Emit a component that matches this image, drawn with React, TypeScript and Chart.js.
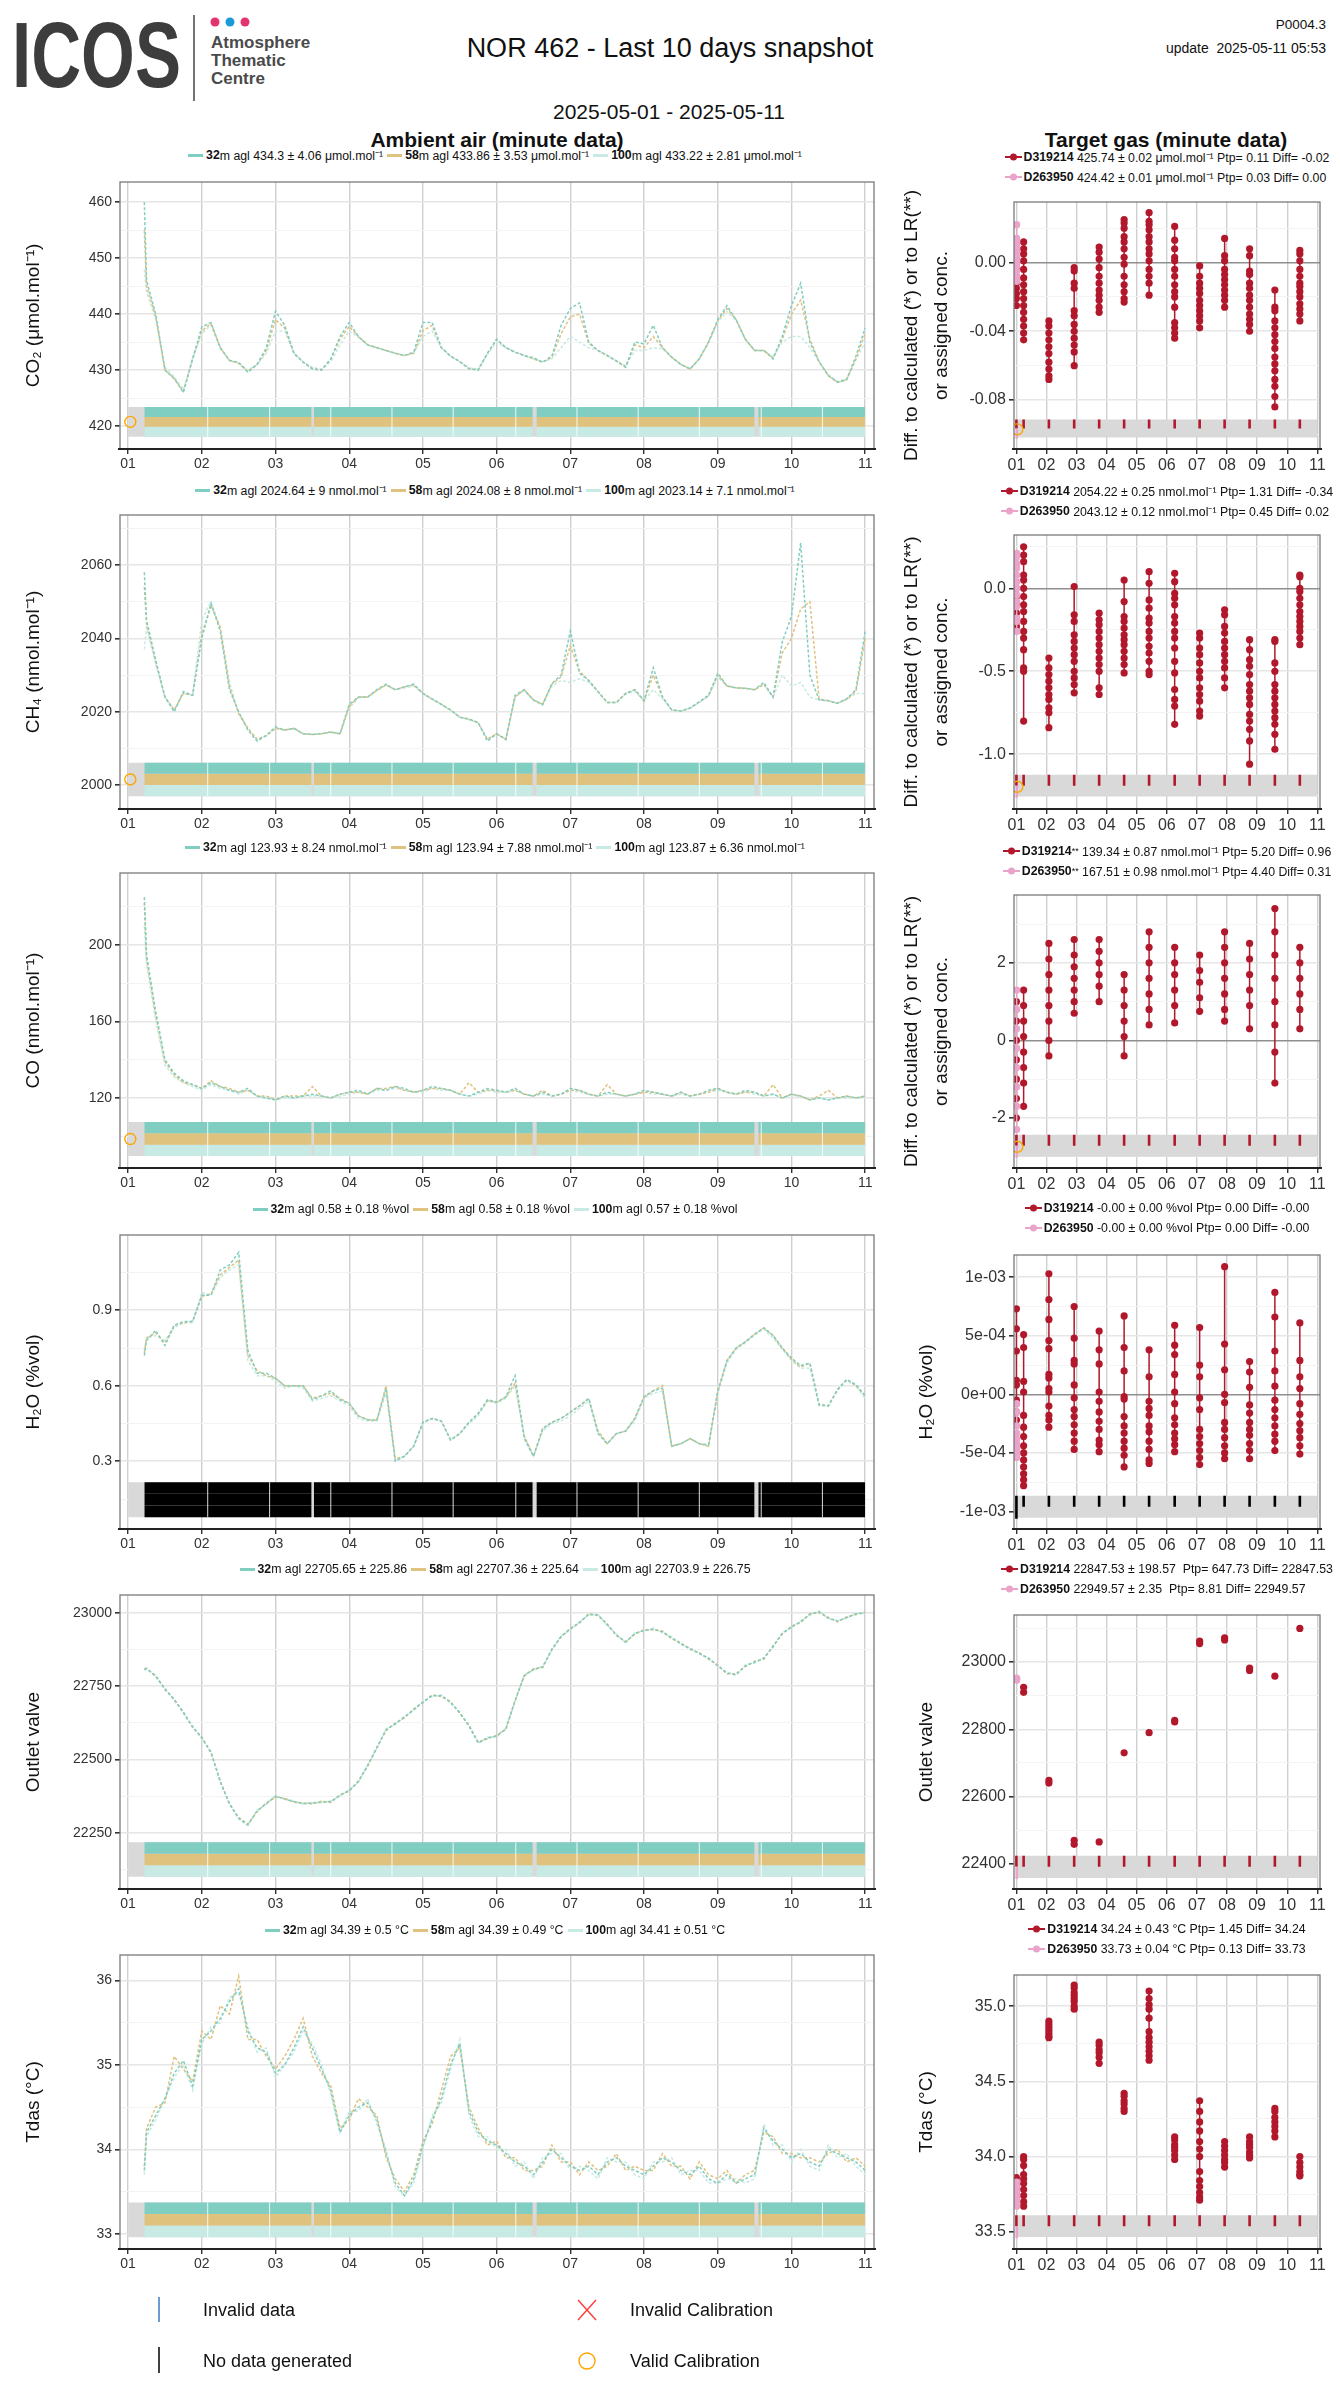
import React, { useEffect, useRef } from "react";
import { Chart, registerables } from "chart.js";
Chart.register(...registerables);

const FONT = '"Liberation Sans", Arial, Helvetica, sans-serif';
Chart.defaults.font.family = FONT;

// ---------------- shared axes / times ----------------
const dayTicks = [1, 2, 3, 4, 5, 6, 7, 8, 9, 10, 11];
const dayLabels = ["01", "02", "03", "04", "05", "06", "07", "08", "09", "10", "11"];
// ambient samples: first record at 1.22 then every 3 hours from 1.25 to 11.0
const ambientTimes: number[] = [1.22, ...Array.from({ length: 79 }, (_, k) => 1.25 + k * 0.125)];
const barStarts = [1.22, 3.52, 6.54, 9.55];
const barEnds = [3.49, 6.49, 9.5, 11.0];
const statusStart = 1.0;
const statusEnd = 11.0;
const calTimes = [1.0, 1.24, 2.08, 2.92, 3.75, 4.58, 5.41, 6.26, 7.09, 7.92, 8.75, 9.59, 10.42];
const refGasTime = 1.01;
const validCalTime = 1.03;

const heightColors = ["#80cdc1", "#dfc27d", "#c7eae5"];
const noDataColors = ["#000000", "#000000", "#000000"];
const tgtColor = "#b2182b";
const refColor = "#eaa3c9";

// ---------------- CO2 ambient ----------------
const co2_32 = [
  460, 446, 440, 430, 428.5, 426, 432,
  437.7, 438.5, 434, 431.7, 431.4, 429.6, 431, 434,
  440.5, 438, 433, 431.4, 430.2, 430, 432, 436,
  438.5, 436, 434.5, 434, 433.5, 433, 432.6, 433.2,
  438.5, 438.5, 434, 432.5, 431.5, 430.2, 430, 433,
  435.5, 434, 433.2, 432.6, 432.2, 431.4, 432.5, 438,
  441, 442, 435, 433.5, 432.6, 431.6, 430.5, 435,
  434.7, 438, 434, 432.3, 431, 430.2, 432, 435,
  439, 441.5, 439, 435.5, 433.5, 433.5, 432, 436,
  441.5, 445.5, 435, 431.5, 429, 427.8, 428.3, 432.5,
  437.5,
];
const co2_58 = [
  455, 445, 439.5, 430, 428.5, 426.2, 432,
  437, 438.3, 434, 431.7, 431.2, 429.8, 431, 433.5,
  439, 437.5, 433, 431.4, 430.3, 430, 432, 435.5,
  437.8, 436, 434.5, 434, 433.5, 433, 432.6, 433,
  437, 438, 434, 432.5, 431.5, 430.3, 430, 433,
  435.5, 434, 433.2, 432.6, 432, 431.4, 432.3, 436.5,
  439.5, 440, 434.8, 433.5, 432.6, 431.6, 430.6, 434.5,
  434, 436, 434, 432.3, 431, 430.2, 432, 435,
  438.8, 441, 439, 435.5, 433.5, 433.5, 432.2, 435.5,
  440, 442.5, 435.5, 431.5, 429, 427.8, 428.3, 432,
  436.5,
];
const co2_100 = [
  448, 444, 439, 430.5, 428.8, 426.5, 432,
  436.5, 438, 434, 431.8, 431.2, 430, 431, 433,
  437, 437, 433, 431.5, 430.5, 430.2, 431.5, 434.5,
  437, 435.8, 434.5, 434, 433.5, 433, 432.6, 433,
  436, 437, 434, 432.5, 431.5, 430.4, 430.2, 432.8,
  435, 434, 433.2, 432.6, 432, 431.5, 432, 434,
  436, 435, 434, 433.5, 432.6, 431.7, 430.8, 433.5,
  433.5, 434, 433.8, 432.3, 431, 430.3, 432, 434.8,
  438.5, 440.5, 438.8, 435.5, 433.5, 433.5, 432.3, 435,
  436, 436, 434, 431.5, 429.2, 428, 428.5, 431.8,
  435,
];

// ---------------- CH4 ambient ----------------
const ch4_32 = [
  2058, 2045, 2034, 2024, 2020, 2025.5, 2024.5,
  2040, 2049.5, 2042, 2026, 2020, 2015, 2012, 2013.5,
  2015.9, 2015, 2015.5, 2014, 2013.8, 2014, 2014.5, 2014,
  2022, 2024, 2024, 2026, 2027.5, 2026, 2026.8, 2027.5,
  2025, 2023.5, 2022, 2020.5, 2018.5, 2018, 2017, 2012,
  2014, 2012.5, 2024.5, 2026, 2023.2, 2022, 2027.7, 2030,
  2042, 2030.5, 2028.5, 2025.5, 2022.5, 2022.5, 2025, 2026,
  2023, 2032, 2024, 2020.5, 2020.2, 2021, 2022.7, 2024.5,
  2030.5, 2027, 2026.5, 2026.4, 2026, 2028, 2024, 2039,
  2046, 2066, 2030, 2023.2, 2023, 2022.3, 2023.5, 2026,
  2042,
];
const ch4_58 = [
  2054, 2044, 2033.5, 2024, 2020.5, 2025, 2024.5,
  2041, 2049, 2043, 2027, 2019.5, 2015.5, 2012.5, 2013.5,
  2015.5, 2015, 2015.5, 2014, 2013.8, 2014, 2014.5, 2014,
  2021.5, 2024, 2024, 2025.8, 2027.3, 2026, 2026.8, 2027.3,
  2025, 2023.5, 2022, 2020.5, 2018.5, 2018, 2017, 2012.5,
  2014, 2012.5, 2024, 2026, 2023.2, 2022, 2027.5, 2029.5,
  2038, 2031, 2028.5, 2025.5, 2022.5, 2022.5, 2025, 2026,
  2023, 2030, 2024, 2020.5, 2020.2, 2021, 2022.7, 2024.3,
  2030, 2027, 2026.5, 2026.4, 2026, 2027.5, 2024, 2036,
  2040, 2048, 2050, 2023.5, 2023, 2022.3, 2023.5, 2025.5,
  2040,
];
const ch4_100 = [
  2037, 2043, 2033, 2024, 2020.5, 2025, 2024.5,
  2045, 2050, 2043, 2028, 2019.5, 2015.5, 2012.5, 2013.5,
  2015.5, 2015, 2015.3, 2014, 2013.8, 2014, 2014.3, 2014,
  2021, 2023.8, 2024, 2025.8, 2027.2, 2026, 2026.5, 2027,
  2025, 2023.3, 2022, 2020.3, 2018.5, 2017.8, 2017, 2012.5,
  2014, 2012.3, 2024, 2025.8, 2023, 2021.8, 2027, 2028.5,
  2028, 2029, 2028, 2025.5, 2022.5, 2022.5, 2024.8, 2025.5,
  2023, 2026, 2023.5, 2020.5, 2020.2, 2021, 2022.5, 2024.3,
  2029.5, 2027, 2026.5, 2026.2, 2026, 2027.3, 2024, 2030,
  2027, 2028, 2024, 2023.2, 2023, 2022.3, 2023.3, 2025,
  2025,
];

// ---------------- CO ambient ----------------
const co_32 = [
  225, 195, 165, 140, 133, 129, 127,
  125, 128, 126, 124, 123, 125, 121, 120,
  119, 121, 120, 121, 122, 121, 120, 122,
  123, 124, 122, 125, 124, 126, 125, 123,
  124, 126, 125, 124, 122, 121, 123, 125,
  124, 123, 125, 122, 121, 123, 121, 122,
  125, 124, 122, 121, 123, 122, 121, 122,
  124, 123, 122, 121, 123, 121, 122, 124,
  125, 123, 122, 124, 123, 121, 122, 120,
  122, 121, 119, 120, 119, 120, 121, 120,
  121,
];
const co_58 = [
  222, 193, 163, 139, 132, 128, 127,
  125, 129, 126, 125, 123, 124, 121, 121,
  119, 121, 121, 121, 126, 121, 120, 122,
  123, 123, 122, 125, 125, 126, 124, 123,
  124, 125, 125, 124, 122, 128, 123, 124,
  124, 123, 124, 122, 121, 124, 121, 122,
  124, 124, 122, 121, 127, 122, 121, 122,
  123, 123, 122, 121, 123, 121, 122, 123,
  125, 123, 122, 123, 123, 121, 127, 120,
  122, 121, 119, 121, 124, 120, 121, 120,
  121,
];
const co_100 = [
  210, 190, 160, 137, 131, 128, 126,
  124, 127, 125, 124, 122, 124, 121, 120,
  119, 120, 120, 121, 121, 121, 120, 121,
  122, 123, 122, 124, 124, 125, 124, 123,
  123, 125, 124, 124, 122, 121, 122, 124,
  123, 123, 124, 122, 121, 122, 121, 122,
  124, 123, 122, 121, 122, 122, 121, 122,
  123, 122, 122, 121, 122, 121, 122, 123,
  124, 123, 122, 123, 122, 121, 122, 120,
  121, 121, 119, 120, 119, 120, 120, 120,
  120,
];

// ---------------- H2O ambient ----------------
const h2o_32 = [
  0.72, 0.78, 0.82, 0.76, 0.84, 0.855, 0.856,
  0.96, 0.96, 1.06, 1.08, 1.13, 0.74, 0.65, 0.65,
  0.63, 0.6, 0.6, 0.6, 0.545, 0.56, 0.58, 0.545,
  0.53, 0.48, 0.465, 0.463, 0.59, 0.3, 0.32, 0.36,
  0.455, 0.47, 0.46, 0.385, 0.41, 0.455, 0.49, 0.545,
  0.535, 0.556, 0.64, 0.39, 0.32, 0.43, 0.455, 0.47,
  0.495, 0.52, 0.55, 0.41, 0.37, 0.41, 0.42, 0.47,
  0.556, 0.58, 0.59, 0.36, 0.37, 0.39, 0.37, 0.365,
  0.58, 0.7, 0.75, 0.775, 0.805, 0.83, 0.8, 0.75,
  0.71, 0.68, 0.69, 0.525, 0.52, 0.585, 0.625, 0.605,
  0.56,
];
const h2o_58 = [
  0.73, 0.79, 0.81, 0.77, 0.84, 0.85, 0.856,
  0.955, 0.965, 1.04, 1.07, 1.1, 0.72, 0.66, 0.64,
  0.63, 0.6, 0.6, 0.6, 0.55, 0.56, 0.57, 0.55,
  0.53, 0.48, 0.465, 0.463, 0.6, 0.31, 0.32, 0.36,
  0.455, 0.47, 0.46, 0.385, 0.41, 0.455, 0.49, 0.54,
  0.535, 0.556, 0.61, 0.4, 0.32, 0.43, 0.455, 0.47,
  0.495, 0.52, 0.55, 0.42, 0.37, 0.41, 0.42, 0.47,
  0.556, 0.58, 0.6, 0.36, 0.37, 0.39, 0.37, 0.36,
  0.575, 0.7, 0.75, 0.775, 0.805, 0.83, 0.8, 0.75,
  0.705, 0.675, 0.69, 0.525, 0.52, 0.585, 0.625, 0.6,
  0.56,
];
const h2o_100 = [
  0.74, 0.79, 0.8, 0.78, 0.83, 0.85, 0.85,
  0.97, 0.96, 1.03, 1.06, 1.08, 0.7, 0.64, 0.64,
  0.62, 0.59, 0.6, 0.59, 0.54, 0.55, 0.56, 0.54,
  0.52, 0.47, 0.46, 0.46, 0.57, 0.3, 0.32, 0.36,
  0.45, 0.47, 0.46, 0.385, 0.41, 0.45, 0.48, 0.54,
  0.53, 0.55, 0.6, 0.4, 0.32, 0.42, 0.45, 0.46,
  0.48, 0.51, 0.54, 0.42, 0.37, 0.41, 0.42, 0.46,
  0.55, 0.57, 0.58, 0.36, 0.37, 0.39, 0.37, 0.36,
  0.57, 0.69, 0.745, 0.77, 0.8, 0.825, 0.79, 0.745,
  0.7, 0.67, 0.67, 0.52, 0.52, 0.58, 0.62, 0.6,
  0.55,
];

// ---------------- Outlet valve ambient ----------------
const out_32 = [
  22807, 22810, 22785, 22740, 22705, 22660, 22612,
  22574, 22525, 22425, 22350, 22300, 22278, 22325, 22350,
  22375, 22366, 22357, 22350, 22352, 22355, 22357, 22378,
  22395, 22425, 22480, 22540, 22602, 22622, 22645, 22670,
  22696, 22718, 22718, 22695, 22660, 22615, 22557, 22574,
  22580, 22605, 22700, 22787, 22807, 22816, 22875, 22920,
  22945, 22968, 22995, 22993, 22960, 22925, 22900, 22930,
  22940, 22945, 22935, 22915, 22895, 22878, 22862, 22845,
  22820, 22795, 22790, 22820, 22832, 22845, 22885, 22930,
  22952, 22970, 22995, 23004, 22982, 22972, 22984, 22997,
  23000,
];
const out_58 = [
  22810, 22812, 22782, 22743, 22703, 22663, 22610,
  22577, 22522, 22428, 22347, 22303, 22281, 22322, 22353,
  22372, 22369, 22354, 22353, 22349, 22358, 22354, 22381,
  22392, 22428, 22477, 22543, 22599, 22625, 22642, 22673,
  22693, 22721, 22715, 22698, 22657, 22618, 22560, 22571,
  22583, 22602, 22703, 22784, 22810, 22813, 22878, 22917,
  22948, 22965, 22998, 22990, 22963, 22922, 22903, 22927,
  22943, 22942, 22938, 22912, 22898, 22875, 22865, 22842,
  22823, 22792, 22793, 22817, 22835, 22842, 22888, 22927,
  22955, 22967, 22998, 23001, 22985, 22969, 22987, 22994,
  23003,
];
const out_100 = [
  22804, 22807, 22788, 22737, 22708, 22657, 22615,
  22571, 22528, 22422, 22353, 22297, 22275, 22328, 22347,
  22378, 22363, 22360, 22347, 22355, 22352, 22360, 22375,
  22398, 22422, 22483, 22537, 22605, 22619, 22648, 22667,
  22699, 22715, 22721, 22692, 22663, 22612, 22554, 22577,
  22577, 22608, 22697, 22790, 22804, 22819, 22872, 22923,
  22942, 22971, 22992, 22996, 22957, 22928, 22897, 22933,
  22937, 22948, 22932, 22918, 22892, 22881, 22859, 22848,
  22817, 22798, 22787, 22823, 22829, 22848, 22882, 22933,
  22949, 22973, 22992, 23007, 22979, 22975, 22981, 23000,
  22997,
];

// ---------------- Tdas ambient ----------------
const td_32 = [
  33.75, 34.2, 34.4, 34.6, 34.9, 35.05, 34.75,
  35.3, 35.4, 35.55, 35.75, 35.9, 35.4, 35.2, 35.15,
  34.9, 35.0, 35.2, 35.45, 35.2, 34.95, 34.7, 34.2,
  34.4, 34.5, 34.55, 34.35, 33.95, 33.6, 33.45, 33.65,
  34.05, 34.35, 34.6, 35.0, 35.25, 34.45, 34.2, 34.1,
  34.05, 33.95, 33.85, 33.8, 33.7, 33.85, 34.0, 33.9,
  33.8, 33.75, 33.8, 33.7, 33.85, 33.9, 33.8, 33.75,
  33.7, 33.8, 33.9, 33.85, 33.75, 33.7, 33.8, 33.65,
  33.6, 33.7, 33.6, 33.65, 33.7, 34.25, 34.1, 34.0,
  33.9, 33.95, 33.85, 33.8, 34.0, 33.95, 33.9, 33.85,
  33.75,
];
const td_58 = [
  33.8, 34.25, 34.5, 34.55, 35.1, 34.95, 34.8,
  35.4, 35.3, 35.7, 35.6, 36.05, 35.3, 35.3, 35.1,
  34.95, 35.1, 35.3, 35.55, 35.1, 34.9, 34.75, 34.25,
  34.35, 34.6, 34.5, 34.4, 33.9, 33.65, 33.5, 33.7,
  34.1, 34.3, 34.7, 35.1, 35.2, 34.5, 34.25, 34.05,
  34.1, 33.9, 33.9, 33.75, 33.75, 33.8, 34.05, 33.85,
  33.85, 33.7, 33.85, 33.75, 33.8, 33.95, 33.75, 33.8,
  33.75, 33.75, 33.95, 33.8, 33.8, 33.65, 33.85, 33.7,
  33.65, 33.75, 33.6, 33.7, 33.75, 34.2, 34.15, 33.95,
  33.95, 33.9, 33.9, 33.85, 33.95, 34.0, 33.85, 33.9,
  33.8,
];
const td_100 = [
  33.7, 34.15, 34.35, 34.6, 34.85, 35.0, 34.7,
  35.25, 35.45, 35.5, 35.8, 35.85, 35.45, 35.15, 35.2,
  34.85, 35.0, 35.15, 35.4, 35.25, 35.0, 34.65, 34.2,
  34.45, 34.45, 34.6, 34.3, 34.0, 33.55, 33.45, 33.6,
  34.0, 34.4, 34.55, 34.95, 35.3, 34.4, 34.15, 34.15,
  34.0, 34.0, 33.8, 33.85, 33.65, 33.9, 33.95, 33.95,
  33.75, 33.8, 33.75, 33.65, 33.9, 33.85, 33.85, 33.7,
  33.65, 33.85, 33.85, 33.9, 33.7, 33.75, 33.75, 33.6,
  33.6, 33.65, 33.65, 33.6, 33.65, 34.3, 34.05, 34.05,
  33.85, 34.0, 33.8, 33.75, 34.05, 33.9, 33.95, 33.8,
  33.7,
];

// ---------------- status bands (top -> bottom boundaries) ----------------
const co2Bands = [423.4, 421.63, 419.87, 418.1];
const ch4Bands = [2006.1, 2003.07, 2000.03, 1997.0];
const coBands = [107.45, 101.5, 95.6, 89.67];
const h2oBands = [0.217, 0.171, 0.124, 0.078];
const outBands = [22218, 22179, 22140, 22101];
const tdBands = [33.37, 33.233, 33.097, 32.96];

// ---------------- target gas sessions (one array per calTimes entry) ----------------
const co2Tgt = [
  [-0.003, -0.008, -0.012, -0.015, -0.018, -0.021, -0.025],
  [0.012, 0.008, 0.005, 0.001, -0.004, -0.009, -0.013, -0.017, -0.021, -0.025, -0.029, -0.033, -0.037, -0.041, -0.045],
  [-0.034, -0.037, -0.041, -0.045, -0.049, -0.053, -0.058, -0.062, -0.066, -0.068],
  [-0.003, -0.005, -0.012, -0.015, -0.028, -0.031, -0.036, -0.04, -0.044, -0.048, -0.052, -0.06],
  [0.009, 0.006, 0.002, -0.003, -0.008, -0.012, -0.016, -0.019, -0.022, -0.026, -0.029],
  [0.025, 0.023, 0.02, 0.015, 0.012, 0.008, 0.003, -0.001, -0.008, -0.013, -0.017, -0.021, -0.023],
  [0.029, 0.024, 0.022, 0.019, 0.015, 0.012, 0.008, 0.005, 0.001, -0.004, -0.008, -0.012, -0.019],
  [0.021, 0.013, 0.008, 0.003, 0.001, -0.004, -0.008, -0.013, -0.017, -0.02, -0.026, -0.035, -0.038, -0.041, -0.044],
  [-0.002, -0.008, -0.012, -0.015, -0.018, -0.022, -0.025, -0.028, -0.031, -0.034, -0.038],
  [0.014, 0.004, 0.001, -0.004, -0.007, -0.01, -0.013, -0.016, -0.019, -0.022, -0.026],
  [0.008, 0.004, -0.005, -0.007, -0.012, -0.015, -0.019, -0.022, -0.026, -0.03, -0.033, -0.036, -0.04],
  [-0.016, -0.026, -0.028, -0.034, -0.038, -0.042, -0.046, -0.05, -0.055, -0.059, -0.063, -0.068, -0.072, -0.078, -0.084],
  [0.007, 0.005, 0.001, -0.004, -0.008, -0.012, -0.014, -0.017, -0.02, -0.024, -0.027, -0.03, -0.034],
];
const co2Ref = [0.022, 0.014, 0.012, 0.01, 0.008, 0.006, 0.003, 0.001, -0.002, -0.005, -0.008, -0.011];

const ch4Tgt = [
  [0.0, -0.05, -0.1, -0.15, -0.2, -0.23],
  [0.25, 0.2, 0.16, 0.08, 0.05, 0.0, -0.05, -0.1, -0.14, -0.2, -0.26, -0.3, -0.37, -0.48, -0.5, -0.8],
  [-0.42, -0.48, -0.52, -0.56, -0.6, -0.64, -0.67, -0.72, -0.75, -0.84],
  [0.01, -0.16, -0.2, -0.28, -0.32, -0.36, -0.4, -0.44, -0.5, -0.54, -0.58, -0.63],
  [-0.15, -0.19, -0.22, -0.26, -0.3, -0.34, -0.38, -0.42, -0.46, -0.5, -0.6, -0.64],
  [0.05, -0.08, -0.17, -0.2, -0.24, -0.28, -0.31, -0.34, -0.38, -0.42, -0.46, -0.51],
  [0.1, 0.03, -0.07, -0.12, -0.18, -0.21, -0.26, -0.3, -0.35, -0.39, -0.44, -0.5, -0.52],
  [0.09, 0.04, -0.03, -0.06, -0.1, -0.17, -0.21, -0.26, -0.3, -0.36, -0.44, -0.51, -0.61, -0.67, -0.71, -0.82],
  [-0.27, -0.3, -0.36, -0.4, -0.45, -0.5, -0.54, -0.6, -0.64, -0.68, -0.74, -0.77],
  [-0.13, -0.16, -0.23, -0.27, -0.32, -0.36, -0.4, -0.44, -0.48, -0.54, -0.6],
  [-0.31, -0.37, -0.43, -0.47, -0.52, -0.58, -0.62, -0.66, -0.7, -0.76, -0.8, -0.85, -0.92, -1.06],
  [-0.31, -0.32, -0.45, -0.5, -0.58, -0.62, -0.66, -0.7, -0.74, -0.78, -0.82, -0.88, -0.97],
  [0.08, 0.07, 0.0, -0.02, -0.06, -0.1, -0.14, -0.17, -0.2, -0.23, -0.26, -0.3, -0.34],
];
const ch4Ref = [0.21, 0.19, 0.15, 0.12, 0.08, 0.04, 0.0, -0.04, -0.08, -0.11, -0.18, -0.2, -0.26];

const coTgt = [
  [1.0, 0.5, 0.0, -0.5, -1.0, -1.5, -2.0],
  [1.3, 0.9, 0.5, 0.1, -0.3, -0.7, -1.1, -1.7],
  [2.5, 2.1, 1.7, 1.3, 0.9, 0.5, 0.0, -0.4],
  [2.6, 2.2, 1.9, 1.6, 1.3, 1.0, 0.7],
  [2.6, 2.3, 2.0, 1.7, 1.4, 1.0],
  [1.7, 1.3, 0.9, 0.5, 0.1, -0.4],
  [2.8, 2.4, 2.0, 1.6, 1.2, 0.8, 0.4],
  [2.4, 2.0, 1.7, 1.3, 0.9, 0.45],
  [2.2, 1.8, 1.5, 1.1, 0.75],
  [2.8, 2.4, 2.0, 1.6, 1.2, 0.8, 0.5],
  [2.5, 2.1, 1.7, 1.3, 0.9, 0.3],
  [3.4, 2.8, 2.2, 1.6, 1.0, 0.4, -0.3, -1.1],
  [2.4, 2.0, 1.6, 1.2, 0.8, 0.3],
];
const coRef = [1.3, 0.8, 0.3, -0.2, -0.7, -1.2, -1.7, -2.3];

// H2O target values in units of 1e-4 %vol
const h2oTgtE4 = [
  [7.3, 5.6, 3.7, 1.2, 0.8, -0.5, -1.5, -2.2],
  [5.1, 4.0, 1.1, 0.2, -1.8, -2.8, -3.6, -4.4, -5.0, -5.6, -6.2, -6.8, -7.3, -7.8],
  [10.3, 8.1, 6.4, 4.6, 3.9, 1.7, 1.4, 0.5, 0.2, -1.0, -1.8, -2.2, -2.8],
  [7.5, 4.8, 2.9, 2.6, 0.8, -0.3, -1.3, -1.9, -2.6, -3.3, -4.0, -4.7],
  [5.4, 3.8, 2.6, 0.2, -0.6, -1.5, -2.3, -3.0, -3.9, -4.3, -4.9],
  [6.7, 4.0, 2.0, -0.2, -0.4, -1.9, -2.7, -3.3, -4.0, -4.6, -5.2, -6.2],
  [3.8, 1.5, -0.6, -1.2, -1.8, -2.7, -3.2, -4.0, -4.7, -5.6, -5.9],
  [5.9, 4.2, 3.4, 1.7, 0.2, -0.8, -2.0, -2.6, -3.3, -3.8, -4.3, -4.9],
  [5.7, 2.5, 1.5, -0.3, -1.3, -3.0, -3.6, -4.2, -4.8, -5.4, -6.0],
  [10.9, 4.3, 2.1, 0.0, -0.7, -2.4, -3.0, -3.7, -4.4, -5.0, -5.5],
  [2.8, 1.9, 0.6, -0.9, -1.6, -2.4, -3.0, -3.5, -4.2, -4.8, -5.5],
  [8.7, 6.6, 3.7, 2.0, 0.7, -0.5, -1.3, -2.0, -2.7, -3.4, -4.0, -4.8],
  [6.1, 2.9, 1.5, 0.5, -0.8, -1.7, -2.5, -3.1, -3.7, -4.4, -5.1],
];
const h2oRefE4 = [-0.8, -1.5, -2.7, -3.3, -3.8, -4.2, -4.6, -5.0, -5.4];
const E4 = 1e-4;

const outTgt = [
  [22948],
  [22925, 22910],
  [22648, 22640],
  [22470, 22458],
  [22465],
  [22730],
  [22790],
  [22827, 22822],
  [23062, 23055],
  [23072, 23066],
  [22982, 22975],
  [22958],
  [23100],
];
const outRef = [22952, 22947];

const tdTgt = [
  [33.86, 33.83, 33.8, 33.77, 33.74, 33.72],
  [34.0, 33.98, 33.94, 33.88, 33.85, 33.82, 33.78, 33.74, 33.7, 33.67],
  [34.9, 34.88, 34.86, 34.84, 34.82, 34.8, 34.79],
  [35.14, 35.12, 35.09, 35.07, 35.05, 35.03, 35.0, 34.98],
  [34.76, 34.74, 34.71, 34.69, 34.66, 34.62],
  [34.42, 34.4, 34.37, 34.35, 34.32, 34.3],
  [35.1, 35.05, 35.01, 34.98, 34.92, 34.83, 34.79, 34.76, 34.73, 34.7, 34.67, 34.64],
  [34.13, 34.11, 34.08, 34.06, 34.04, 34.01, 33.98],
  [34.37, 34.3, 34.23, 34.17, 34.1, 34.05, 34.0, 33.9, 33.84, 33.8, 33.76, 33.73, 33.71],
  [34.1, 34.07, 34.04, 34.01, 33.98, 33.96, 33.93],
  [34.13, 34.1, 34.08, 34.06, 34.03, 34.01, 33.99],
  [34.32, 34.3, 34.26, 34.23, 34.2, 34.17, 34.13],
  [34.0, 33.96, 33.93, 33.9, 33.88, 33.87],
];
const tdRef = [33.83, 33.8, 33.77, 33.74, 33.71, 33.69, 33.67];

// ---------------- tick labels ----------------
const co2Ticks = [420, 430, 440, 450, 460];
const co2TickLabels = ["420", "430", "440", "450", "460"];
const ch4Ticks = [2000, 2020, 2040, 2060];
const ch4TickLabels = ["2000", "2020", "2040", "2060"];
const coTicks = [120, 160, 200];
const coTickLabels = ["120", "160", "200"];
const h2oTicks = [0.3, 0.6, 0.9];
const h2oTickLabels = ["0.3", "0.6", "0.9"];
const outTicks = [22250, 22500, 22750, 23000];
const outTickLabels = ["22250", "22500", "22750", "23000"];
const tdTicks = [33, 34, 35, 36];
const tdTickLabels = ["33", "34", "35", "36"];

const co2RTicks = [-0.08, -0.04, 0];
const co2RTickLabels = ["-0.08", "-0.04", "0.00"];
const ch4RTicks = [-1.0, -0.5, 0];
const ch4RTickLabels = ["-1.0", "-0.5", "0.0"];
const coRTicks = [-2, 0, 2];
const coRTickLabels = ["-2", "0", "2"];
const h2oRTicks = [-0.001, -0.0005, 0, 0.0005, 0.001];
const h2oRTickLabels = ["-1e-03", "-5e-04", "0e+00", "5e-04", "1e-03"];
const outRTicks = [22400, 22600, 22800, 23000];
const outRTickLabels = ["22400", "22600", "22800", "23000"];
const tdRTicks = [33.5, 34.0, 34.5, 35.0];
const tdRTickLabels = ["33.5", "34.0", "34.5", "35.0"];

// ---------------- legends ----------------
const co2Legend = [["32", "m agl 434.3 ± 4.06 μmol.mol⁻¹"], ["58", "m agl 433.86 ± 3.53 μmol.mol⁻¹"], ["100", "m agl 433.22 ± 2.81 μmol.mol⁻¹"]];
const ch4Legend = [["32", "m agl 2024.64 ± 9 nmol.mol⁻¹"], ["58", "m agl 2024.08 ± 8 nmol.mol⁻¹"], ["100", "m agl 2023.14 ± 7.1 nmol.mol⁻¹"]];
const coLegend = [["32", "m agl 123.93 ± 8.24 nmol.mol⁻¹"], ["58", "m agl 123.94 ± 7.88 nmol.mol⁻¹"], ["100", "m agl 123.87 ± 6.36 nmol.mol⁻¹"]];
const h2oLegend = [["32", "m agl 0.58 ± 0.18 %vol"], ["58", "m agl 0.58 ± 0.18 %vol"], ["100", "m agl 0.57 ± 0.18 %vol"]];
const outLegend = [["32", "m agl 22705.65 ± 225.86"], ["58", "m agl 22707.36 ± 225.64"], ["100", "m agl 22703.9 ± 226.75"]];
const tdLegend = [["32", "m agl 34.39 ± 0.5 °C"], ["58", "m agl 34.39 ± 0.49 °C"], ["100", "m agl 34.41 ± 0.51 °C"]];

const co2RLegend = [["D319214", "", " 425.74 ± 0.02 μmol.mol⁻¹ Ptp= 0.11 Diff= -0.02"], ["D263950", "", " 424.42 ± 0.01 μmol.mol⁻¹ Ptp= 0.03 Diff= 0.00"]];
const ch4RLegend = [["D319214", "", " 2054.22 ± 0.25 nmol.mol⁻¹ Ptp= 1.31 Diff= -0.34"], ["D263950", "", " 2043.12 ± 0.12 nmol.mol⁻¹ Ptp= 0.45 Diff= 0.02"]];
const coRLegend = [["D319214", "**", " 139.34 ± 0.87 nmol.mol⁻¹ Ptp= 5.20 Diff= 0.96"], ["D263950", "**", " 167.51 ± 0.98 nmol.mol⁻¹ Ptp= 4.40 Diff= 0.31"]];
const h2oRLegend = [["D319214", "", " -0.00 ± 0.00 %vol Ptp= 0.00 Diff= -0.00"], ["D263950", "", " -0.00 ± 0.00 %vol Ptp= 0.00 Diff= -0.00"]];
const outRLegend = [["D319214", "", " 22847.53 ± 198.57  Ptp= 647.73 Diff= 22847.53"], ["D263950", "", " 22949.57 ± 2.35  Ptp= 8.81 Diff= 22949.57"]];
const tdRLegend = [["D319214", "", " 34.24 ± 0.43 °C Ptp= 1.45 Diff= 34.24"], ["D263950", "", " 33.73 ± 0.04 °C Ptp= 0.13 Diff= 33.73"]];

// ---------------- layout ----------------
const L = { x0: 120, x1: 874, canvasW: 890, xMin: 0.89, xMax: 11.12 };
const R = { x0: 1014, x1: 1320, canvasX: 880, canvasW: 460, xMin: 0.92, xMax: 11.09 };
const PAD_TOP = 16;
const X_AXIS_H = 30;

const leftRows = [
  { legendY: 155, top: 182, bottom: 449 },
  { legendY: 490, top: 515, bottom: 809 },
  { legendY: 847, top: 873, bottom: 1168 },
  { legendY: 1209, top: 1235, bottom: 1529 },
  { legendY: 1569, top: 1595, bottom: 1889 },
  { legendY: 1930, top: 1955, bottom: 2249 },
];
const rightRows = [
  { legendY: 157, top: 202, bottom: 449 },
  { legendY: 491, top: 535, bottom: 809 },
  { legendY: 851, top: 895, bottom: 1168 },
  { legendY: 1208, top: 1255, bottom: 1529 },
  { legendY: 1569, top: 1615, bottom: 1889 },
  { legendY: 1929, top: 1975, bottom: 2249 },
];

const leftPanels = [
  { title: "CO₂ (μmol.mol⁻¹)", yMin: 415.9, yMax: 463.6, ticks: co2Ticks, labels: co2TickLabels, s: [co2_32, co2_58, co2_100], bands: co2Bands, colors: heightColors, cal: true, legend: co2Legend },
  { title: "CH₄ (nmol.mol⁻¹)", yMin: 1993.5, yMax: 2073.6, ticks: ch4Ticks, labels: ch4TickLabels, s: [ch4_32, ch4_58, ch4_100], bands: ch4Bands, colors: heightColors, cal: true, legend: ch4Legend },
  { title: "CO (nmol.mol⁻¹)", yMin: 83.4, yMax: 237.6, ticks: coTicks, labels: coTickLabels, s: [co_32, co_58, co_100], bands: coBands, colors: heightColors, cal: true, legend: coLegend },
  { title: "H₂O (%vol)", yMin: 0.031, yMax: 1.199, ticks: h2oTicks, labels: h2oTickLabels, s: [h2o_32, h2o_58, h2o_100], bands: h2oBands, colors: noDataColors, cal: false, legend: h2oLegend },
  { title: "Outlet valve", yMin: 22059, yMax: 23061, ticks: outTicks, labels: outTickLabels, s: [out_32, out_58, out_100], bands: outBands, colors: heightColors, cal: false, legend: outLegend },
  { title: "Tdas (°C)", yMin: 32.82, yMax: 36.3, ticks: tdTicks, labels: tdTickLabels, s: [td_32, td_58, td_100], bands: tdBands, colors: heightColors, cal: false, legend: tdLegend },
];

const diffTitle = ["Diff. to calculated (*) or to LR(**)", "or assigned conc."];
const rightPanels = [
  { title: diffTitle, yMin: -0.1085, yMax: 0.0352, ticks: co2RTicks, labels: co2RTickLabels, tgt: co2Tgt, ref: co2Ref, scale: 1, band: [-0.0913, -0.1018], tickColor: tgtColor, cal: true, legend: co2RLegend },
  { title: diffTitle, yMin: -1.33, yMax: 0.321, ticks: ch4RTicks, labels: ch4RTickLabels, tgt: ch4Tgt, ref: ch4Ref, scale: 1, band: [-1.124, -1.255], tickColor: tgtColor, cal: true, legend: ch4RLegend },
  { title: diffTitle, yMin: -3.29, yMax: 3.75, ticks: coRTicks, labels: coRTickLabels, tgt: coTgt, ref: coRef, scale: 1, band: [-2.43, -3.0], tickColor: tgtColor, cal: true, legend: coRLegend },
  { title: "H₂O (%vol)", yMin: -0.00115, yMax: 0.00119, ticks: h2oRTicks, labels: h2oRTickLabels, tgt: h2oTgtE4, ref: h2oRefE4, scale: E4, band: [-0.000866, -0.001054], tickColor: "#000000", cal: false, legend: h2oRLegend },
  { title: "Outlet valve", yMin: 22325, yMax: 23140, ticks: outRTicks, labels: outRTickLabels, tgt: outTgt, ref: outRef, scale: 1, band: [22424, 22358], tickColor: tgtColor, cal: false, legend: outRLegend },
  { title: "Tdas (°C)", yMin: 33.385, yMax: 35.207, ticks: tdRTicks, labels: tdRTickLabels, tgt: tdTgt, ref: tdRef, scale: 1, band: [33.61, 33.464], tickColor: tgtColor, cal: false, legend: tdRLegend },
];

// ---------------- chart helpers ----------------
const framePlugin = {
  id: "frame",
  afterDraw(chart: any) {
    const { ctx, chartArea: a } = chart;
    ctx.save();
    ctx.strokeStyle = "#7a7a7a";
    ctx.lineWidth = 1.3;
    ctx.strokeRect(a.left, a.top, a.right - a.left, a.bottom - a.top);
    ctx.strokeStyle = "#222";
    ctx.lineWidth = 2;
    ctx.beginPath();
    ctx.moveTo(a.left - 2, a.bottom);
    ctx.lineTo(a.right + 2, a.bottom);
    ctx.stroke();
    ctx.restore();
  },
};

function buildTicks(majors: number[], labels: string[], min: number, max: number) {
  const step = majors[1] - majors[0];
  const out: any[] = majors.map((v, i) => ({ value: v, lbl: labels[i], m: true }));
  for (let i = -1; i < majors.length; i++) {
    const v = majors[0] + (i + 0.5) * step;
    if (v > min && v < max) out.push({ value: v, lbl: "", m: false });
  }
  return out.sort((a, b) => a.value - b.value);
}

function xScale(min: number, max: number, fontSize: number) {
  return {
    type: "linear",
    min,
    max,
    afterBuildTicks: (s: any) => {
      s.ticks = dayTicks.map((v, i) => ({ value: v, lbl: dayLabels[i], m: true }));
    },
    afterFit: (s: any) => {
      s.height = X_AXIS_H;
    },
    ticks: {
      autoSkip: false,
      maxRotation: 0,
      minRotation: 0,
      padding: 2,
      color: "#333",
      font: { size: fontSize },
      callback: (_v: any, i: number, t: any[]) => t[i].lbl,
    },
    grid: { color: "#cfcfcf", lineWidth: 1.4, tickColor: "#333", tickLength: 5 },
    border: { display: false },
  };
}

function yScale(p: any, width: number, fontSize: number, title: any) {
  return {
    type: "linear",
    min: p.yMin,
    max: p.yMax,
    afterBuildTicks: (s: any) => {
      s.ticks = buildTicks(p.ticks, p.labels, p.yMin, p.yMax);
    },
    afterFit: (s: any) => {
      s.width = width;
    },
    ticks: {
      autoSkip: false,
      padding: 3,
      color: "#333",
      font: { size: fontSize },
      callback: (_v: any, i: number, t: any[]) => t[i].lbl,
    },
    grid: {
      color: (c: any) => (c.tick && c.tick.value === 0 ? "#8f8f8f" : c.tick && c.tick.m ? "#e6e6e6" : "#f3f3f3"),
      lineWidth: (c: any) => (c.tick && c.tick.value === 0 ? 1.5 : c.tick && c.tick.m ? 1.6 : 1),
      tickColor: (c: any) => (c.tick && c.tick.m ? "#333" : "rgba(0,0,0,0)"),
      tickLength: 5,
    },
    border: { display: false },
    title,
  };
}

const NOLINE = "rgba(0,0,0,0)";

function leftConfig(p: any) {
  const ds: any[] = [];
  const b = p.bands;
  ds.push({ data: [{ x: statusStart, y: b[0] }, { x: statusEnd, y: b[0] }], fill: { value: b[3] }, backgroundColor: "#d9d9d9", borderColor: NOLINE, borderWidth: 0, pointRadius: 0, order: 20 });
  for (let k = 0; k < 3; k++) {
    barStarts.forEach((s, i) => {
      ds.push({ data: [{ x: s, y: b[k] }, { x: barEnds[i], y: b[k] }], fill: { value: b[k + 1] }, backgroundColor: p.colors[k], borderColor: NOLINE, borderWidth: 0, pointRadius: 0, order: 19 });
    });
  }
  const sep: any[] = [];
  calTimes.slice(2).forEach((t) => {
    sep.push({ x: t, y: b[3] }, { x: t, y: b[0] }, { x: t, y: null });
  });
  ds.push({ data: sep, borderColor: "rgba(255,255,255,0.85)", borderWidth: 1, pointRadius: 0, fill: false, spanGaps: false, order: 18 });
  [2, 1, 0].forEach((k) => {
    ds.push({
      data: ambientTimes.map((t, i) => ({ x: t, y: p.s[k][i] })),
      borderColor: heightColors[k],
      borderWidth: 1.5,
      borderDash: [3, 2],
      pointRadius: 0,
      fill: false,
      order: 5 + k,
    });
  });
  if (p.cal) {
    ds.push({ data: [{ x: validCalTime, y: (b[1] + b[2]) / 2 }], showLine: false, pointRadius: 5.5, pointBorderColor: "#ffa500", pointBackgroundColor: NOLINE, pointBorderWidth: 1.4, order: 0 });
  }
  return {
    type: "line",
    data: { datasets: ds },
    options: {
      responsive: false,
      animation: false,
      events: [],
      devicePixelRatio: 1,
      layout: { padding: { top: PAD_TOP, right: L.canvasW - L.x1, left: 0, bottom: 0 } },
      plugins: { legend: { display: false }, tooltip: { enabled: false } },
      elements: { line: { tension: 0 } },
      scales: {
        x: xScale(L.xMin, L.xMax, 14),
        y: yScale(p, L.x0, 14, { display: true, text: p.title, color: "#111", font: { size: 19, lineHeight: "22px" }, padding: { top: 23, bottom: 0 } }),
      },
    },
    plugins: [framePlugin],
  };
}

function rightConfig(p: any) {
  const ds: any[] = [];
  const [bt, bb] = p.band;
  const bh = bt - bb;
  ds.push({ data: [{ x: 0.98, y: bt }, { x: 11.0, y: bt }], fill: { value: bb }, backgroundColor: "#d9d9d9", borderColor: NOLINE, borderWidth: 0, pointRadius: 0, order: 20 });
  const tk: any[] = [];
  calTimes.forEach((t, i) => {
    const full = i === 0 && p.tickColor === "#000000";
    tk.push({ x: t, y: bt }, { x: t, y: full ? bb - bh * 0.05 : bt - bh * 0.5 }, { x: t, y: null });
  });
  ds.push({ data: tk, borderColor: p.tickColor, borderWidth: 2.6, pointRadius: 0, fill: false, spanGaps: false, order: 15 });
  if (p.tickColor !== "#000000") {
    ds.push({ data: [{ x: refGasTime, y: bt - bh * 0.5 }, { x: refGasTime, y: bb - bh * 0.05 }], borderColor: refColor, borderWidth: 2.6, pointRadius: 0, fill: false, order: 14 });
  }
  if (p.cal) {
    ds.push({ data: [{ x: validCalTime, y: bt - bh * 0.55 }], showLine: false, pointRadius: 5.5, pointBorderColor: "#ffa500", pointBackgroundColor: NOLINE, pointBorderWidth: 1.4, order: 0 });
  }
  const red: any[] = [];
  p.tgt.forEach((vals: number[], i: number) => {
    vals.forEach((v) => red.push({ x: calTimes[i], y: v * p.scale }));
    red.push({ x: calTimes[i], y: null });
  });
  ds.push({ data: red, borderColor: tgtColor, borderWidth: 1.5, pointRadius: 3.6, pointBackgroundColor: tgtColor, pointBorderWidth: 0, fill: false, spanGaps: false, order: 3 });
  ds.push({ data: p.ref.map((v: number) => ({ x: refGasTime, y: v * p.scale })), borderColor: refColor, borderWidth: 1.5, pointRadius: 3.6, pointBackgroundColor: refColor, pointBorderWidth: 0, fill: false, order: 2 });
  const two = Array.isArray(p.title);
  return {
    type: "line",
    data: { datasets: ds },
    options: {
      responsive: false,
      animation: false,
      events: [],
      devicePixelRatio: 1,
      layout: { padding: { top: PAD_TOP, right: R.canvasW - (R.x1 - R.canvasX), left: 0, bottom: 0 } },
      plugins: { legend: { display: false }, tooltip: { enabled: false } },
      elements: { line: { tension: 0 } },
      scales: {
        x: xScale(R.xMin, R.xMax, 16),
        y: yScale(p, R.x0 - R.canvasX, 16, { display: true, text: p.title, color: "#111", font: { size: 19, lineHeight: "30px" }, padding: { top: two ? 17 : 31.5, bottom: 0 } }),
      },
    },
    plugins: [framePlugin],
  };
}

function ChartBox({ x, y, w, h, make }: any) {
  const ref = useRef<HTMLCanvasElement | null>(null);
  useEffect(() => {
    if (!ref.current) return;
    const chart = new Chart(ref.current, make());
    return () => chart.destroy();
  }, []);
  return (
    <div style={{ position: "absolute", left: x, top: y, width: w, height: h }}>
      <canvas ref={ref} width={w} height={h} style={{ width: w, height: h, display: "block" }} />
    </div>
  );
}

function LeftLegend({ y, items }: any) {
  return (
    <div style={{ position: "absolute", left: L.x0, width: L.x1 - L.x0, top: y - 10, height: 20, display: "flex", justifyContent: "center", alignItems: "center", fontSize: 12.3, whiteSpace: "nowrap", color: "#111" }}>
      {items.map((it: string[], i: number) => (
        <span key={i} style={{ display: "inline-flex", alignItems: "center", marginRight: 4 }}>
          <span style={{ display: "inline-block", width: 15, height: 3, background: heightColors[i], marginRight: 3 }} />
          <b>{it[0]}</b>
          <span>{it[1]}</span>
        </span>
      ))}
    </div>
  );
}

function RightLegend({ y, items }: any) {
  const cols = [tgtColor, refColor];
  return (
    <div style={{ position: "absolute", left: 1167 - 227, width: 454, top: y - 10, display: "flex", justifyContent: "center" }}>
      <div style={{ fontSize: 12.3, whiteSpace: "nowrap", color: "#111" }}>
        {items.map((it: string[], i: number) => (
          <div key={i} style={{ display: "flex", alignItems: "center", height: 20 }}>
            <svg width={17} height={12} style={{ marginRight: 2 }}>
              <line x1={0} y1={6} x2={17} y2={6} stroke={cols[i]} strokeWidth={2} />
              <circle cx={8.5} cy={6} r={3.5} fill={cols[i]} />
            </svg>
            <b>{it[0]}</b>
            {it[1] ? <sup style={{ fontSize: 9 }}>{it[1]}</sup> : null}
            <span style={{ whiteSpace: "pre" }}>{it[2]}</span>
          </div>
        ))}
      </div>
    </div>
  );
}

function Header() {
  return (
    <svg width={1340} height={160} style={{ position: "absolute", left: 0, top: 0 }} fontFamily={FONT}>
      <text x={12} y={87} fontSize={92} fontWeight="bold" fill="#3d3d3d" textLength={169} lengthAdjust="spacingAndGlyphs">ICOS</text>
      <line x1={194} y1={15} x2={194} y2={101} stroke="#444" strokeWidth={1.5} />
      <circle cx={215} cy={22} r={4.5} fill="#e5336f" />
      <circle cx={230} cy={22} r={4.5} fill="#1a9bd7" />
      <circle cx={245} cy={22} r={4.5} fill="#e5336f" />
      <text x={211} y={48} fontSize={17} fontWeight="bold" fill="#4a4a4a">Atmosphere</text>
      <text x={211} y={66} fontSize={17} fontWeight="bold" fill="#4a4a4a">Thematic</text>
      <text x={211} y={84} fontSize={17} fontWeight="bold" fill="#4a4a4a">Centre</text>
      <text x={670} y={57} fontSize={27} textAnchor="middle" fill="#111">NOR 462 - Last 10 days snapshot</text>
      <text x={1326} y={29} fontSize={13.5} textAnchor="end" fill="#111">P0004.3</text>
      <text x={1326} y={53} fontSize={14} textAnchor="end" fill="#111" style={{ whiteSpace: "pre" }}>{"update  2025-05-11 05:53"}</text>
      <text x={669} y={119} fontSize={21} textAnchor="middle" fill="#111">2025-05-01 - 2025-05-11</text>
      <text x={497} y={147} fontSize={21} fontWeight="bold" textAnchor="middle" fill="#111">Ambient air (minute data)</text>
      <text x={1166} y={147} fontSize={21} fontWeight="bold" textAnchor="middle" fill="#111">Target gas (minute data)</text>
    </svg>
  );
}

function BottomLegend() {
  return (
    <svg width={1340} height={120} style={{ position: "absolute", left: 0, top: 2270 }} fontFamily={FONT}>
      <line x1={159} y1={27} x2={159} y2={52} stroke="#3a7dc0" strokeWidth={1.5} />
      <text x={203} y={46} fontSize={18} fill="#111">Invalid data</text>
      <line x1={159} y1={77} x2={159} y2={103} stroke="#000" strokeWidth={1.5} />
      <text x={203} y={97} fontSize={18} fill="#111">No data generated</text>
      <line x1={578} y1={30} x2={596} y2={50} stroke="#ff3b3b" strokeWidth={1.4} />
      <line x1={596} y1={30} x2={578} y2={50} stroke="#ff3b3b" strokeWidth={1.4} />
      <text x={630} y={46} fontSize={18} fill="#111">Invalid Calibration</text>
      <circle cx={587} cy={91} r={8} fill="none" stroke="#ffa500" strokeWidth={1.4} />
      <text x={630} y={97} fontSize={18} fill="#111">Valid Calibration</text>
    </svg>
  );
}

export default function App() {
  return (
    <div style={{ position: "absolute", left: 0, top: 0, width: 1340, height: 2400, background: "#ffffff", fontFamily: FONT, overflow: "hidden" }}>
      <Header />
      {leftPanels.map((p, i) => {
        const r = leftRows[i];
        const h = r.bottom - r.top + PAD_TOP + X_AXIS_H;
        return (
          <React.Fragment key={"l" + i}>
            <LeftLegend y={r.legendY} items={p.legend} />
            <ChartBox x={0} y={r.top - PAD_TOP} w={L.canvasW} h={h} make={() => leftConfig(p)} />
          </React.Fragment>
        );
      })}
      {rightPanels.map((p, i) => {
        const r = rightRows[i];
        const h = r.bottom - r.top + PAD_TOP + X_AXIS_H;
        return (
          <React.Fragment key={"r" + i}>
            <RightLegend y={r.legendY} items={p.legend} />
            <ChartBox x={R.canvasX} y={r.top - PAD_TOP} w={R.canvasW} h={h} make={() => rightConfig(p)} />
          </React.Fragment>
        );
      })}
      <BottomLegend />
    </div>
  );
}
